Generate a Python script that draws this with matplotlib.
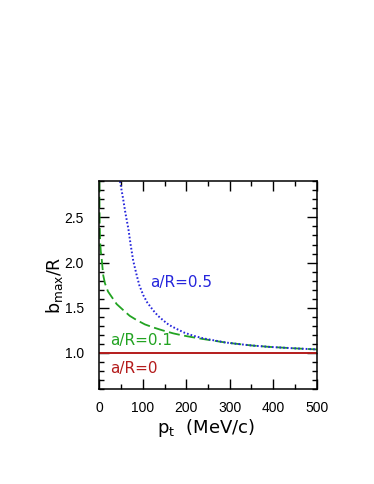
import matplotlib
matplotlib.use("Agg")
import matplotlib.pyplot as plt
from matplotlib.ticker import MultipleLocator

plt.rcParams['font.family'] = ['DejaVu Sans']
plt.rcParams['lines.scale_dashes'] = False

# a/R = 0 (solid red)
pt_0 = [0, 500]
b_0 = [1.0, 1.0]

# a/R = 0.1 (dashed green)
pt_01 = [0.2, 0.5, 1, 2, 3.5, 5.5, 9, 13, 20, 28.5, 40, 55, 70, 86, 105, 124,
         145, 170, 190, 209, 230, 255, 290, 316, 350, 392, 450, 500]
b_01 = [2.9, 2.6, 2.4, 2.22, 2.12, 2.04, 1.86, 1.77, 1.68, 1.62, 1.54, 1.474,
        1.41, 1.363, 1.315, 1.282, 1.25, 1.216, 1.195, 1.178, 1.16, 1.141,
        1.115, 1.10, 1.082, 1.066, 1.05, 1.038]

# a/R = 0.5 (dotted blue)
pt_05 = [47.6, 55, 60, 67, 72, 78, 86, 92, 101, 110, 124, 135, 147, 160, 178,
         195, 216, 240, 262, 290, 316, 350, 392, 450, 500]
b_05 = [2.9, 2.7, 2.55, 2.37, 2.2, 2.02, 1.86, 1.75, 1.64, 1.56, 1.47, 1.41,
        1.36, 1.31, 1.265, 1.225, 1.19, 1.16, 1.14, 1.115, 1.10, 1.082, 1.066,
        1.05, 1.038]

labels = ["a/R=0", "a/R=0.1", "a/R=0.5"]
xticks = [0, 100, 200, 300, 400, 500]
yticks = [1.0, 1.5, 2.0, 2.5]

red = "#b41c1c"
green = "#22a322"
blue = "#2626dc"

fig = plt.figure(figsize=(3.74, 4.84), dpi=100)
ax = fig.add_axes([0.2655, 0.1963, 0.5813, 0.4291])

ax.plot(pt_0, b_0, color=red, lw=1.4)
ax.plot(pt_01, b_01, color=green, lw=1.3, linestyle=(0, (8.0, 3.2)))
ax.plot(pt_05, b_05, color=blue, lw=1.4, linestyle=(0, (1.2, 1.5)))

ax.text(26, 0.83, labels[0], color=red, fontsize=11, va='center', ha='left')
ax.text(26, 1.133, labels[1], color=green, fontsize=11, va='center', ha='left')
ax.text(117, 1.774, labels[2], color=blue, fontsize=11, va='center', ha='left')

ax.set_xlim(0, 500)
ax.set_ylim(0.6, 2.9)
ax.set_xticks(xticks)
ax.set_yticks(yticks)
ax.set_yticklabels([f"{v:.1f}" for v in yticks])
ax.xaxis.set_minor_locator(MultipleLocator(50))
ax.yaxis.set_minor_locator(MultipleLocator(0.1))
ax.tick_params(which='both', direction='in', top=True, right=True, width=1.0)
ax.tick_params(which='major', length=7)
ax.tick_params(which='minor', length=3.6)
ax.tick_params(axis='x', which='major', pad=9)
ax.tick_params(axis='y', which='major', pad=11)
for lab in ax.get_xticklabels() + ax.get_yticklabels():
    lab.set_family(['Liberation Sans'])
    lab.set_fontsize(10)
for s in ax.spines.values():
    s.set_linewidth(1.1)

ax.set_xlabel(r"p$_\mathrm{t}$  (MeV/c)", fontsize=13)
ax.set_ylabel(r"b$_\mathrm{max}$/R", fontsize=12.5)
ax.xaxis.set_label_coords(0.49, -0.135)
ax.yaxis.set_label_coords(-0.16, 0.5)

fig.savefig("out.png", dpi=100)
